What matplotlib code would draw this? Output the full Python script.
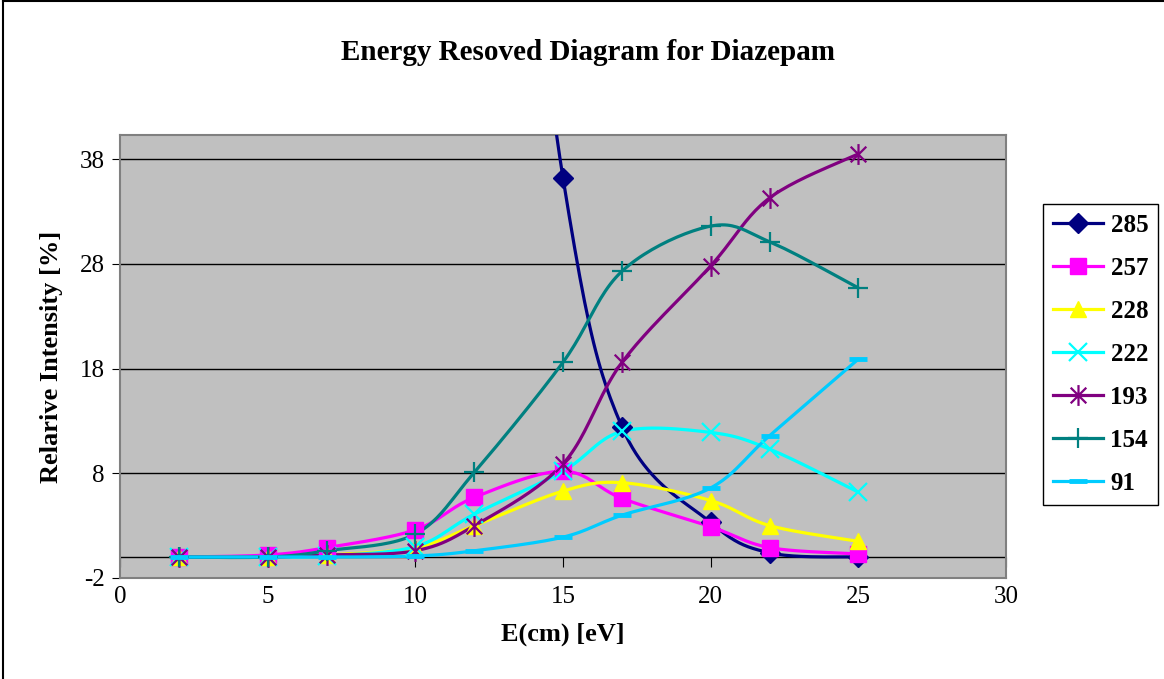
import numpy as np
import matplotlib.pyplot as plt
from matplotlib.lines import Line2D
from matplotlib.path import Path

plt.rcParams['axes.unicode_minus'] = False

# collision energies and relative intensities of each fragment ion
energy = [2, 5, 7, 10, 12, 15, 17, 20, 22, 25]
ion_285 = [100, 100, 100, 100, 100, 36.2, 12.4, 3.3, 0.4, 0.0]
ion_257 = [0.0, 0.2, 0.9, 2.6, 5.7, 8.2, 5.6, 2.9, 0.9, 0.3]
ion_228 = [0.0, 0.0, 0.2, 0.9, 3.0, 6.3, 7.1, 5.4, 3.0, 1.5]
ion_222 = [0.0, 0.0, 0.1, 1.0, 4.1, 8.2, 12.0, 11.9, 10.3, 6.2]
ion_193 = [0.0, 0.0, 0.2, 0.6, 3.0, 8.9, 18.6, 27.8, 34.3, 38.5]
ion_154 = [0.0, 0.0, 0.6, 2.2, 8.1, 18.6, 27.3, 31.6, 30.1, 25.7]
ion_91 = [0.0, 0.0, 0.0, 0.1, 0.6, 1.9, 4.0, 6.6, 11.6, 18.9]

labels = ['285', '257', '228', '222', '193', '154', '91']
series = [ion_285, ion_257, ion_228, ion_222, ion_193, ion_154, ion_91]
colors = ['#000080', '#FF00FF', '#FFFF00', '#00FFFF', '#800080', '#008080', '#00CCFF']

# excel style asterisk: x with a vertical bar
star = Path([(0, -1), (0, 1), (-0.75, -0.75), (0.75, 0.75), (-0.75, 0.75), (0.75, -0.75)],
            [Path.MOVETO, Path.LINETO] * 3)
markers = ['D', 's', '^', 'x', star, '+', '_']
msizes = [10, 11, 12, 13, 15, 15, 13]
mews = [1, 1, 1, 1.6, 1.6, 1.6, 3.5]


def smooth(x, y, n=24):
    # bezier smoothing like excel's "smoothed line"
    pts = np.column_stack([x, y]).astype(float)
    out = [pts[:1]]
    t = np.linspace(0, 1, n)[1:, None]
    for i in range(len(pts) - 1):
        p0 = pts[max(i - 1, 0)]
        p1 = pts[i]
        p2 = pts[i + 1]
        p3 = pts[min(i + 2, len(pts) - 1)]
        c1 = p1 + (p2 - p0) / 6
        c2 = p2 - (p3 - p1) / 6
        out.append((1 - t) ** 3 * p1 + 3 * (1 - t) ** 2 * t * c1
                   + 3 * (1 - t) * t ** 2 * c2 + t ** 3 * p2)
    s = np.vstack(out)
    return s[:, 0], s[:, 1]


serif = 'Liberation Serif'
fig = plt.figure(figsize=(11.64, 6.79), dpi=100)
ax = fig.add_axes([120 / 1164, 1 - 578 / 679, 886 / 1164, 443 / 679])
ax.set_facecolor('#C0C0C0')

handles = []
for vals, lab, c, m, ms, mew in zip(series, labels, colors, markers, msizes, mews):
    sx, sy = smooth(energy, vals)
    ax.plot(sx, sy, color=c, lw=2.3, solid_capstyle='round', zorder=3)
    ax.plot(energy, vals, ls='none', marker=m, ms=ms, color=c, mec=c, mew=mew, zorder=4)
    handles.append(Line2D([], [], color=c, lw=2.3, marker=m, ms=ms, mec=c, mew=mew))

ax.set_xlim(0, 30)
ax.set_ylim(-2, 40.3)
ax.set_yticks([-2, 8, 18, 28, 38])
ax.set_xticks(range(0, 31, 5))
ax.yaxis.grid(True, color='black', lw=1)
ax.axhline(0, color='black', lw=1, zorder=2)
ax.set_axisbelow(True)
for sp in ax.spines.values():
    sp.set_color('#808080')
    sp.set_linewidth(1.5)
ax.tick_params(axis='y', direction='out', length=6, color='black', pad=5,
               labelsize=18, labelfontfamily=serif)
ax.tick_params(axis='x', length=0, pad=6, labelsize=18, labelfontfamily=serif)

# category axis crosses at zero, with its tick marks there
zero_ax = ax.secondary_xaxis(0, transform=ax.transData)
zero_ax.set_xticks(range(0, 31, 5))
zero_ax.tick_params(direction='out', length=7, color='black', labelbottom=False)
zero_ax.spines['bottom'].set_visible(False)

ax.set_xlabel('E(cm) [eV]', fontsize=19, fontweight='bold', family=serif, labelpad=10)
ax.set_ylabel('Relarive Intensity [%]', fontsize=19, fontweight='bold', family=serif, labelpad=12)
fig.text(588 / 1164, 1 - 53 / 679, 'Energy Resoved Diagram for Diazepam',
         ha='center', va='center', fontsize=21, fontweight='bold', family=serif)

leg = fig.legend(handles, labels, loc='upper left',
                 bbox_to_anchor=(1043 / 1164, 1 - 204 / 679), bbox_transform=fig.transFigure,
                 prop={'family': serif, 'weight': 'bold', 'size': 18},
                 fancybox=False, edgecolor='black', framealpha=1, handlelength=2.0,
                 labelspacing=0.8, borderpad=0.4, handletextpad=0.3, borderaxespad=0)
leg.get_frame().set_linewidth(1)

# chart frame
fig.add_artist(Line2D([0.003, 1], [0.998, 0.998], color='black', lw=1.5))
fig.add_artist(Line2D([0.003, 0.003], [0, 0.998], color='black', lw=1.5))

fig.savefig('out.png', dpi=100)
